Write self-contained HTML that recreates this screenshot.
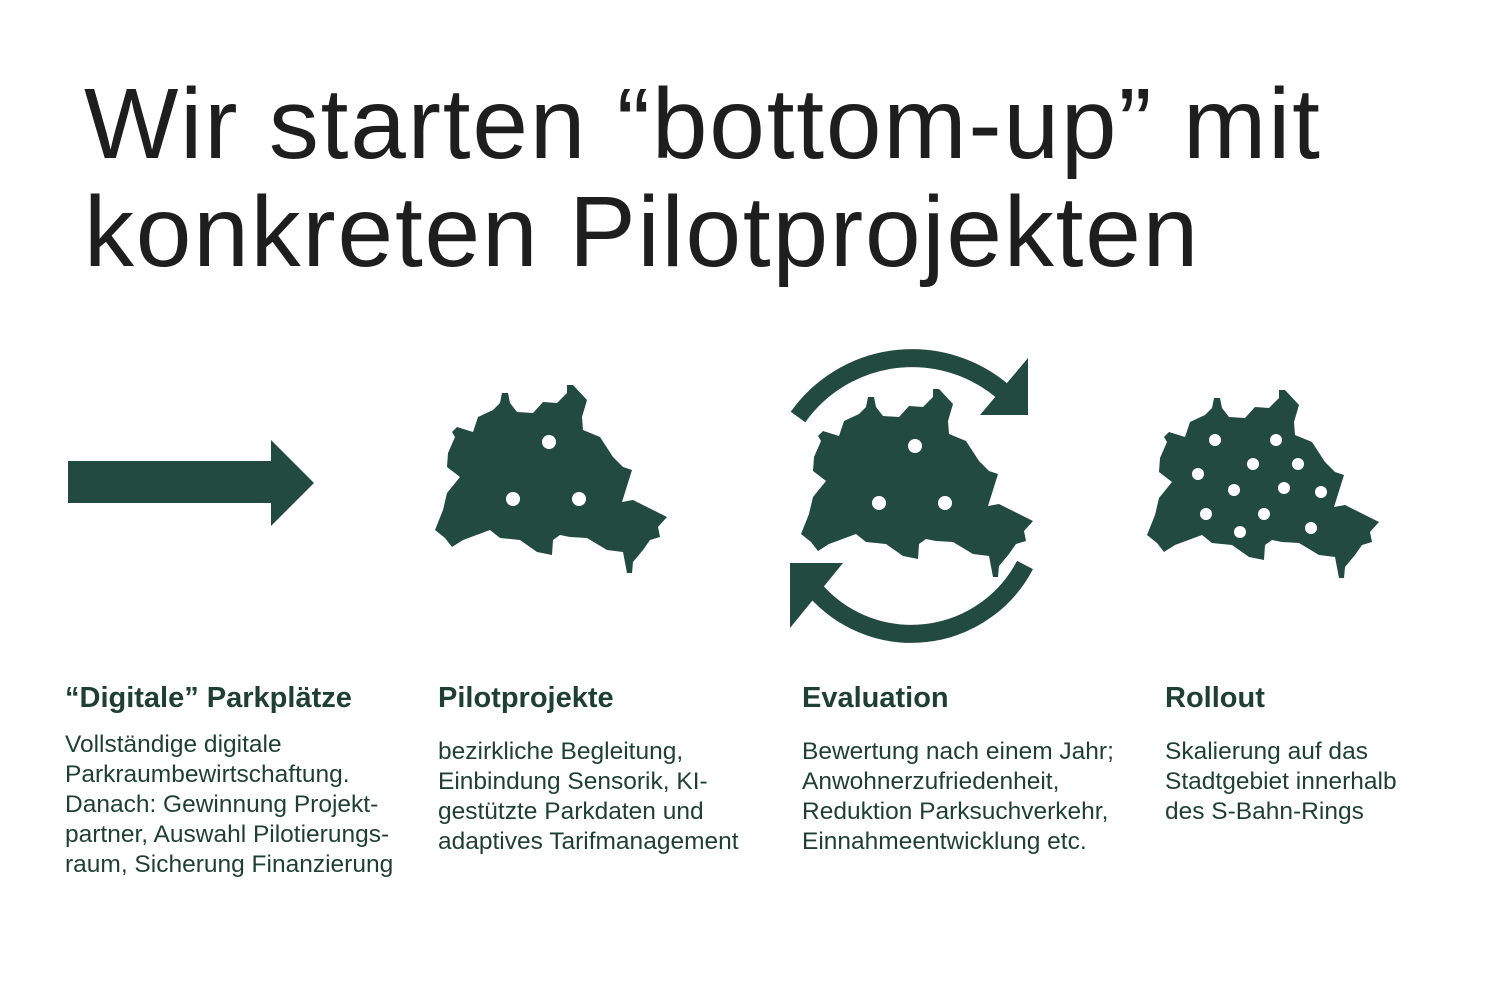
<!DOCTYPE html>
<html><head><meta charset="utf-8"><style>
body{margin:0;width:1500px;height:1000px;background:#fff;position:relative;overflow:hidden;font-family:"Liberation Sans",sans-serif;color:#1e1e1e}
.t{position:absolute;left:84px;font-size:100px;line-height:108px;letter-spacing:1.8px;white-space:nowrap}
.h{position:absolute;font-weight:bold;font-size:29px;color:#1f3f35;top:682px}
.b{position:absolute;font-size:24.5px;line-height:30px;color:#1f3f35}
</style></head><body>
<div class="t" style="top:70px">Wir starten “bottom-up” mit</div>
<div class="t" style="top:178px">konkreten Pilotprojekten</div>
<svg width="1500" height="1000" style="position:absolute;left:0;top:0">
<defs><g id="m"><path d="M82,23L88,23L90,33L97,42L113,43L123,32L137,33L147,23L147,15L153,15L167,30L162,47L163,60L180,67L193,87L203,97L212,100L202,132L213,130L233,140L247,147L238,157L240,167L230,170L223,180L213,192L212,203L207,203L203,182L187,180L167,168L150,167L140,165L133,170L132,185L117,182L100,170L80,168L70,160L43,170L32,177L25,168L15,160L23,140L27,123L40,107L27,97L28,83L35,67L32,62L37,57L53,62L58,47L73,40L80,33Z" fill="#224a3e"/></g></defs>
<g fill="#224a3e">
<rect x="68" y="461" width="205" height="42"/><polygon points="271,440 314,483 271,526"/>
</g>
<g transform="translate(420,370)"><use href="#m"/><g fill="#fff"><circle cx="129" cy="72" r="7"/><circle cx="93" cy="129" r="7"/><circle cx="159" cy="129" r="7"/></g></g>
<g transform="translate(786,374)"><use href="#m"/><g fill="#fff"><circle cx="129" cy="72" r="7"/><circle cx="93" cy="129" r="7"/><circle cx="159" cy="129" r="7"/></g></g>
<g transform="translate(1132,375)"><use href="#m"/></g>
<g fill="#fff"><circle cx="1215" cy="440" r="6"/><circle cx="1276" cy="440" r="6"/><circle cx="1198" cy="474" r="6"/><circle cx="1253" cy="464" r="6"/><circle cx="1298" cy="464" r="6"/><circle cx="1234" cy="490" r="6"/><circle cx="1284" cy="488" r="6"/><circle cx="1321" cy="492" r="6"/><circle cx="1206" cy="514" r="6"/><circle cx="1264" cy="514" r="6"/><circle cx="1240" cy="532" r="6"/><circle cx="1311" cy="528" r="6"/></g>
<g fill="none" stroke="#224a3e" stroke-width="18">
<path d="M798,417 A140,140 0 0 1 1010,398"/>
<path d="M1025,565 A128,128 0 0 1 815,590"/>
</g>
<g fill="#224a3e"><polygon points="1028,358 1028,415 980,415"/><polygon points="790,563 843,563 790,628"/></g>
</svg>
<div class="h" style="left:65px">“Digitale” Parkplätze</div>
<div class="h" style="left:438px">Pilotprojekte</div>
<div class="h" style="left:802px">Evaluation</div>
<div class="h" style="left:1165px">Rollout</div>
<div class="b" style="left:65px;top:730px">Vollständige digitale<br>Parkraumbewirtschaftung.<br>Danach: Gewinnung Projekt-<br>partner, Auswahl Pilotierungs-<br>raum, Sicherung Finanzierung</div>
<div class="b" style="left:438px;top:737px">bezirkliche Begleitung,<br>Einbindung Sensorik, KI-<br>gestützte Parkdaten und<br>adaptives Tarifmanagement</div>
<div class="b" style="left:802px;top:737px">Bewertung nach einem Jahr;<br>Anwohnerzufriedenheit,<br>Reduktion Parksuchverkehr,<br>Einnahmeentwicklung etc.</div>
<div class="b" style="left:1165px;top:737px">Skalierung auf das<br>Stadtgebiet innerhalb<br>des S-Bahn-Rings</div>
</body></html>
